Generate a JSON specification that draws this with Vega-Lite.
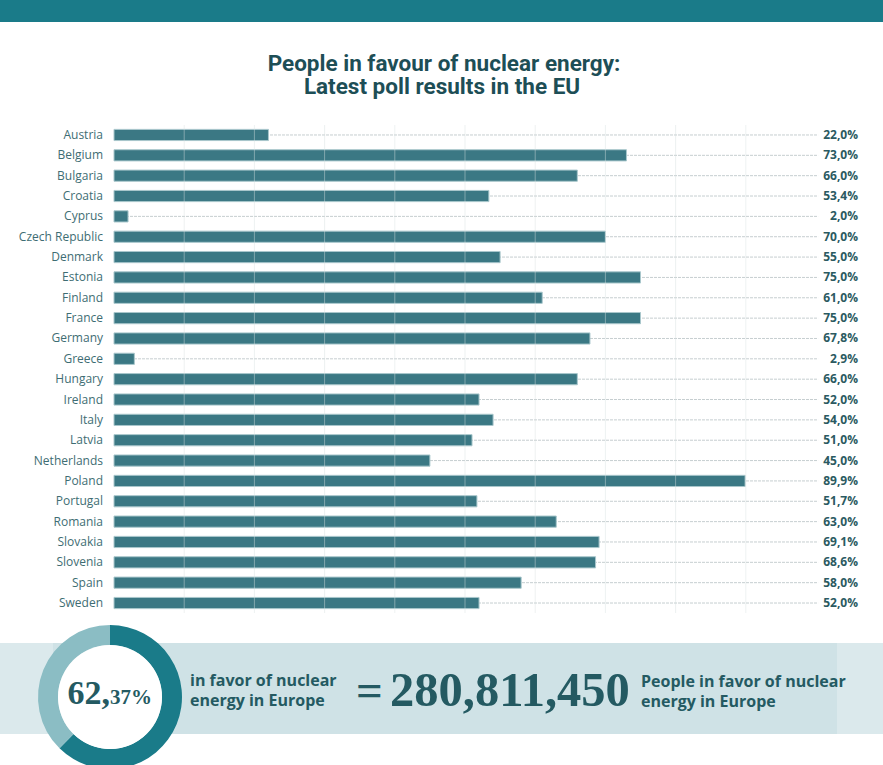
{
  "$schema": "https://vega.github.io/schema/vega-lite/v6.json",
  "width": 883,
  "height": 765,
  "autosize": {"type": "none"},
  "padding": 0,
  "background": "#ffffff",
  "config": {
    "view": {"stroke": null},
    "locale": {"number": {"decimal": ",", "thousands": ",", "grouping": [3], "currency": ["", ""]}}
  },
  "datasets": {
    "poll": [
      {"country": "Austria", "share": 0.220},
      {"country": "Belgium", "share": 0.730},
      {"country": "Bulgaria", "share": 0.660},
      {"country": "Croatia", "share": 0.534},
      {"country": "Cyprus", "share": 0.020},
      {"country": "Czech Republic", "share": 0.700},
      {"country": "Denmark", "share": 0.550},
      {"country": "Estonia", "share": 0.750},
      {"country": "Finland", "share": 0.610},
      {"country": "France", "share": 0.750},
      {"country": "Germany", "share": 0.678},
      {"country": "Greece", "share": 0.029},
      {"country": "Hungary", "share": 0.660},
      {"country": "Ireland", "share": 0.520},
      {"country": "Italy", "share": 0.540},
      {"country": "Latvia", "share": 0.510},
      {"country": "Netherlands", "share": 0.450},
      {"country": "Poland", "share": 0.899},
      {"country": "Portugal", "share": 0.517},
      {"country": "Romania", "share": 0.630},
      {"country": "Slovakia", "share": 0.691},
      {"country": "Slovenia", "share": 0.686},
      {"country": "Spain", "share": 0.580},
      {"country": "Sweden", "share": 0.520}
    ],
    "ticks": [
      {"tick": 0.1}, {"tick": 0.2}, {"tick": 0.3}, {"tick": 0.4}, {"tick": 0.5},
      {"tick": 0.6}, {"tick": 0.7}, {"tick": 0.8}, {"tick": 0.9}
    ],
    "europe": [
      {"part": "In favour", "share": 62.37, "people": 280811450},
      {"part": "Not in favour", "share": 37.63}
    ]
  },
  "layer": [
    {
      "data": {"values": [{}]},
      "mark": {"type": "rect", "x": 0, "x2": 883, "y": 0, "y2": 22, "color": "#1a7b89"},
      "encoding": {}
    },
    {
      "data": {"values": [{}]},
      "mark": {"type": "text", "text": "People in favour of nuclear energy:",
        "x": 444, "y": 71, "align": "center", "baseline": "alphabetic",
        "font": "Roboto", "fontWeight": "bold", "fontSize": 22.5, "color": "#1d4e56"},
      "encoding": {}
    },
    {
      "data": {"values": [{}]},
      "mark": {"type": "text", "text": "Latest poll results in the EU",
        "x": 442, "y": 94, "align": "center", "baseline": "alphabetic",
        "font": "Roboto", "fontWeight": "bold", "fontSize": 22.5, "color": "#1d4e56"},
      "encoding": {}
    },
    {
      "data": {"name": "poll"},
      "mark": {"type": "rule", "color": "#c6ced0", "strokeWidth": 1, "strokeDash": [3, 1]},
      "encoding": {
        "y": {"field": "country", "type": "nominal", "sort": null, "axis": null,
          "scale": {"range": [124.8, 613.2], "paddingInner": 0.45, "paddingOuter": 0.225}},
        "x": {"datum": 0, "type": "quantitative", "axis": null,
          "scale": {"domain": [0, 1], "range": [114, 816], "nice": false}},
        "x2": {"datum": 1.003}
      }
    },
    {
      "data": {"name": "poll"},
      "mark": {"type": "bar", "color": "#3b7884", "stroke": "#a9c7cc", "strokeWidth": 1},
      "encoding": {
        "y": {"field": "country", "type": "nominal", "sort": null, "axis": null},
        "x": {"field": "share", "type": "quantitative", "axis": null}
      }
    },
    {
      "data": {"name": "ticks"},
      "mark": {"type": "rule", "y": 125, "y2": 613, "color": "#d8dfe0", "opacity": 0.45, "strokeWidth": 1},
      "encoding": {
        "x": {"field": "tick", "type": "quantitative", "axis": null}
      }
    },
    {
      "data": {"name": "poll"},
      "mark": {"type": "text", "align": "right", "baseline": "middle", "dx": -11,
        "font": "Open Sans", "fontSize": 12, "color": "#3e6d73"},
      "encoding": {
        "y": {"field": "country", "type": "nominal", "sort": null, "axis": null},
        "x": {"datum": 0, "type": "quantitative"},
        "text": {"field": "country", "type": "nominal"}
      }
    },
    {
      "data": {"name": "poll"},
      "mark": {"type": "text", "align": "right", "baseline": "middle", "dx": 42,
        "font": "Open Sans", "fontWeight": "bold", "fontSize": 12, "color": "#2b5a61"},
      "encoding": {
        "y": {"field": "country", "type": "nominal", "sort": null, "axis": null},
        "x": {"datum": 1, "type": "quantitative"},
        "text": {"field": "share", "type": "quantitative", "format": ".1%"}
      }
    },
    {
      "data": {"values": [{}]},
      "mark": {"type": "rect", "x": 0, "x2": 883, "y": 643, "y2": 734, "color": "#dbe9ec"},
      "encoding": {}
    },
    {
      "data": {"values": [{}]},
      "mark": {"type": "rect", "x": 53, "x2": 837, "y": 643, "y2": 734, "color": "#cfe2e6"},
      "encoding": {}
    },
    {
      "data": {"values": [{}]},
      "mark": {"type": "rule", "x": 53, "x2": 837, "y": 643, "color": "#9dbdc2", "strokeWidth": 1.5},
      "encoding": {}
    },
    {
      "data": {"values": [{}]},
      "mark": {"type": "rule", "x": 53, "x2": 837, "y": 734, "color": "#7fa5ab", "strokeWidth": 1.5},
      "encoding": {}
    },
    {
      "data": {"name": "europe"},
      "mark": {"type": "arc", "x": 110, "y": 697, "radius": 72, "radius2": 52},
      "encoding": {
        "theta": {"field": "share", "type": "quantitative", "stack": true},
        "color": {"field": "part", "type": "nominal", "legend": null,
          "scale": {"domain": ["In favour", "Not in favour"], "range": ["#1a7b89", "#8bbdc4"]}}
      }
    },
    {
      "data": {"values": [{}]},
      "mark": {"type": "arc", "x": 110, "y": 697, "radius": 52, "theta": 0, "theta2": 6.2832, "color": "#ffffff"},
      "encoding": {}
    },
    {
      "data": {"values": [{}]},
      "mark": {"type": "text", "text": "62,", "x": 110, "y": 704, "align": "right", "baseline": "alphabetic",
        "font": "Liberation Serif", "fontWeight": "bold", "fontSize": 34, "color": "#245a62"},
      "encoding": {}
    },
    {
      "data": {"values": [{}]},
      "mark": {"type": "text", "text": "37%", "x": 110, "y": 704, "align": "left", "baseline": "alphabetic",
        "font": "Liberation Serif", "fontWeight": "bold", "fontSize": 21, "color": "#245a62"},
      "encoding": {}
    },
    {
      "data": {"values": [{}]},
      "mark": {"type": "text", "text": "in favor of nuclear", "x": 190, "y": 686,
        "align": "left", "baseline": "alphabetic",
        "font": "Open Sans", "fontWeight": "bold", "fontSize": 16, "color": "#245a62"},
      "encoding": {}
    },
    {
      "data": {"values": [{}]},
      "mark": {"type": "text", "text": "energy in Europe", "x": 190, "y": 705.5,
        "align": "left", "baseline": "alphabetic",
        "font": "Open Sans", "fontWeight": "bold", "fontSize": 16, "color": "#245a62"},
      "encoding": {}
    },
    {
      "data": {"values": [{}]},
      "mark": {"type": "text", "text": "=", "x": 356, "y": 706, "align": "left", "baseline": "alphabetic",
        "font": "Liberation Serif", "fontWeight": "bold", "fontSize": 47, "color": "#245a62"},
      "encoding": {}
    },
    {
      "data": {"name": "europe"},
      "transform": [{"filter": "isValid(datum.people)"}],
      "mark": {"type": "text", "x": 390, "y": 706, "align": "left", "baseline": "alphabetic",
        "font": "Liberation Serif", "fontWeight": "bold", "fontSize": 48.5, "color": "#245a62"},
      "encoding": {
        "text": {"field": "people", "type": "quantitative", "format": ","}
      }
    },
    {
      "data": {"values": [{}]},
      "mark": {"type": "text", "text": "People in favor of nuclear", "x": 641, "y": 687,
        "align": "left", "baseline": "alphabetic",
        "font": "Open Sans", "fontWeight": "bold", "fontSize": 16, "color": "#245a62"},
      "encoding": {}
    },
    {
      "data": {"values": [{}]},
      "mark": {"type": "text", "text": "energy in Europe", "x": 641, "y": 706.5,
        "align": "left", "baseline": "alphabetic",
        "font": "Open Sans", "fontWeight": "bold", "fontSize": 16, "color": "#245a62"},
      "encoding": {}
    }
  ]
}
